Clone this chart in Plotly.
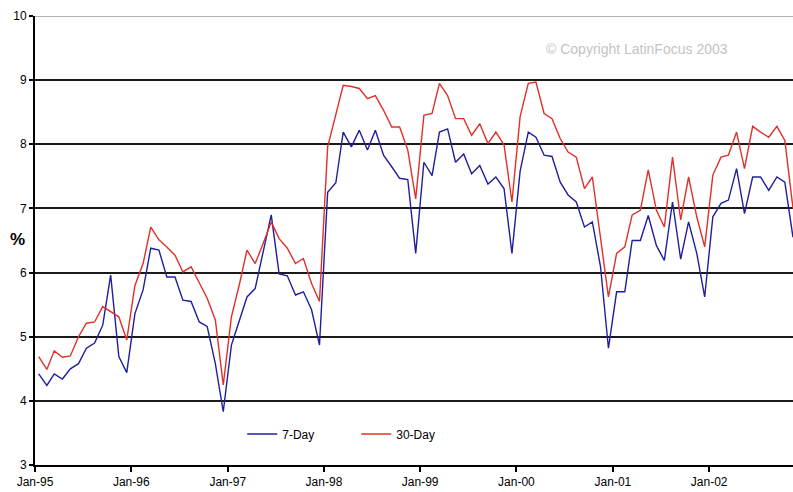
import pandas as pd
import plotly.graph_objects as go

# monthly interbank rates, Jan-95 .. Nov-02 (%)
start_month = "1995-01-01"
seven_day = [
    4.42, 4.24, 4.42, 4.34, 4.50, 4.58, 4.82, 4.90, 5.18, 5.96, 4.69, 4.44,
    5.36, 5.73, 6.38, 6.35, 5.93, 5.93, 5.57, 5.55, 5.23, 5.16, 4.58, 3.83,
    4.87, 5.26, 5.62, 5.75, 6.30, 6.90, 5.98, 5.95, 5.65, 5.70, 5.42,
    4.87, 7.25, 7.40, 8.19, 7.96, 8.22, 7.91, 8.22, 7.83, 7.65, 7.47, 7.45,
    6.30, 7.72, 7.51, 8.19, 8.24, 7.72, 7.85, 7.54, 7.67, 7.38, 7.49, 7.31,
    6.30, 7.58, 8.19, 8.11, 7.83, 7.81, 7.41, 7.21, 7.10, 6.71, 6.79, 6.09,
    4.82, 5.70, 5.70, 6.50, 6.50, 6.89, 6.42, 6.19, 7.10, 6.21, 6.79, 6.30,
    5.62, 6.87, 7.08, 7.13, 7.62, 6.92, 7.49, 7.49, 7.28, 7.49, 7.41, 6.55,
]
thirty_day = [
    4.69, 4.49, 4.78, 4.68, 4.70, 5.00, 5.21, 5.23, 5.47, 5.39, 5.31, 4.95,
    5.80, 6.14, 6.71, 6.51, 6.40, 6.27, 6.01, 6.09, 5.83, 5.60, 5.26, 4.25,
    5.31, 5.83, 6.35, 6.14, 6.45, 6.79, 6.53, 6.38, 6.14, 6.22, 5.83, 5.55,
    7.96, 8.45, 8.92, 8.90, 8.87, 8.71, 8.76, 8.53, 8.27, 8.27, 7.91, 7.15,
    8.45, 8.48, 8.95, 8.76, 8.40, 8.40, 8.14, 8.32, 8.01, 8.19, 7.99, 7.10,
    8.43, 8.95, 8.97, 8.48, 8.40, 8.09, 7.88, 7.80, 7.31, 7.49, 6.56, 5.62,
    6.30, 6.40, 6.90, 6.97, 7.60, 6.97, 6.71, 7.80, 6.82, 7.49, 6.87, 6.40,
    7.52, 7.80, 7.83, 8.19, 7.62, 8.28, 8.19, 8.11, 8.28, 8.06, 7.00,
]

# points sit mid-month, ticks on 1 January
months = pd.date_range(start_month, periods=len(seven_day), freq="MS") + pd.Timedelta(days=14)

font = "Liberation Sans, Arial, sans-serif"

fig = go.Figure()
fig.add_trace(go.Scatter(x=months, y=seven_day, name="7-Day", mode="lines",
                         line=dict(color="#1f1f9e", width=1.4)))
fig.add_trace(go.Scatter(x=months, y=thirty_day, name="30-Day", mode="lines",
                         line=dict(color="#e0302a", width=1.4)))

fig.update_layout(
    width=793,
    height=492,
    margin=dict(l=35, r=0, t=16, b=27),
    plot_bgcolor="white",
    paper_bgcolor="white",
    font=dict(family=font, size=11, color="black"),
    legend=dict(orientation="h", x=0.2734, y=0.069, xanchor="left", yanchor="middle",
                bgcolor="rgba(0,0,0,0)", font=dict(size=12), itemwidth=30,
                entrywidth=69, tracegroupgap=0),
    xaxis=dict(
        type="date",
        range=[months[0] - pd.Timedelta(days=14), months[-1]],
        tick0="1995-01-01", dtick="M12", tickformat="%b-%y",
        ticks="outside", ticklen=5, tickcolor="black", tickwidth=1.5,
        showline=True, linecolor="black", linewidth=2,
        showgrid=False, zeroline=False, tickfont=dict(size=12),
    ),
    yaxis=dict(
        range=[3, 10], dtick=1,
        ticks="outside", ticklen=4, tickcolor="black", tickwidth=1.5,
        showline=True, linecolor="black", linewidth=2,
        showgrid=True, gridcolor="#1a1a1a", gridwidth=1.6, zeroline=False,
        tickfont=dict(size=12),
    ),
    shapes=[dict(type="line", xref="paper", x0=0, x1=1, yref="y", y0=10, y1=10,
                 line=dict(color="#9a9a9a", width=1.6))],
    annotations=[
        dict(text="<b>%</b>", xref="paper", yref="paper", x=-0.010, y=0.503, showarrow=False,
             xanchor="right", font=dict(size=17, family=font, color="black")),
        dict(text="© Copyright LatinFocus 2003", xref="paper", yref="paper",
             x=0.671, y=0.926, xanchor="left", yanchor="middle", showarrow=False,
             font=dict(size=14, family=font, color="#c4c4c4")),
    ],
)

fig.write_html("out.html", config={"displayModeBar": False},
               post_script="document.body.style.margin='0';")
